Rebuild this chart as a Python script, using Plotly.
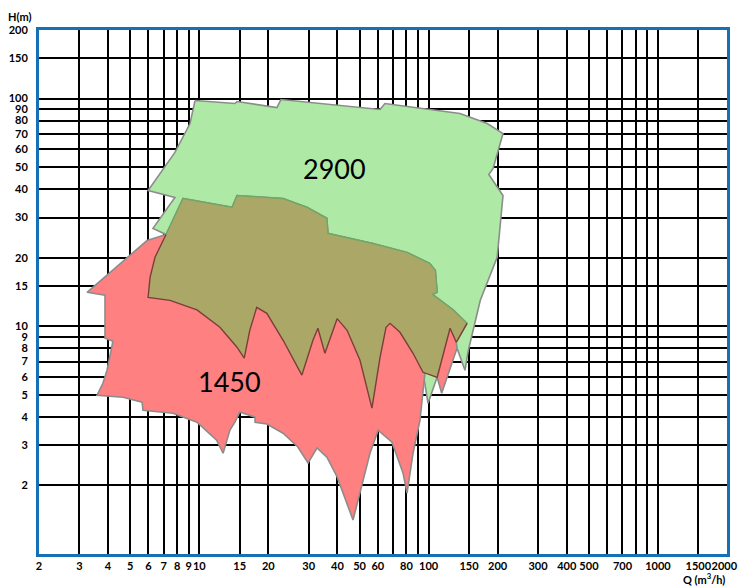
import math
import plotly.graph_objects as go

# ---- data (Q in m3/h, H in m) ----
# 2900 rpm envelope: outer boundary (clockwise from top-left)
g_outer_q = [9.58, 14.3, 14.6, 21.8, 22.7, 44.5, 61.4, 64.5, 137, 180, 211, 191, 183, 211,
             199, 168, 159, 149, 144, 134, 124, 109, 99.4, 94.5]
g_outer_h = [98.0, 95.1, 97.0, 91.3, 99.0, 92.2, 89.5, 95.1, 85.9, 77.7, 70.2, 49.3, 46.4, 37.5,
             20.1, 13.0, 10.3, 7.85, 6.41, 7.85, 8.68, 5.97, 4.59, 6.28]
g_left_q = [6.28, 7.83, 5.98, 7.83, 9.11]
g_left_h = [26.9, 36.8, 39.5, 58.0, 77.7]

# overlap region: upper edge (left -> right)
o_top_q = [7.16, 8.49, 13.9, 14.6, 23.2, 29.5, 36.0, 36.4, 57.2, 80.5, 101, 107, 109, 104, 128, 147]
o_top_h = [25.3, 36.4, 33.3, 37.5, 36.4, 33.3, 29.8, 25.6, 23.1, 21.1, 18.9, 17.6, 14.1, 13.8, 11.8, 10.3]
# overlap region: lower edge (right -> left)
o_bot_q = [132, 124, 109, 94.5, 85.5, 75.0, 67.9, 65.2, 61.4, 56.6, 50.2, 44.1, 39.9, 35.3, 32.9,
           31.3, 28.0, 23.2, 19.7, 17.8, 16.6, 15.7, 14.6, 12.3, 9.77, 7.45, 5.98, 6.10, 6.41]
o_bot_h = [8.51, 9.80, 5.97, 6.28, 7.61, 9.41, 10.3, 9.90, 7.31, 4.37, 7.09, 9.60, 10.8, 7.61, 9.80,
           8.68, 6.10, 8.68, 11.4, 12.1, 9.60, 7.24, 8.09, 9.90, 11.8, 13.0, 13.4, 16.4, 20.1]

# 1450 rpm envelope: outer boundary (from top-left, counter-clockwise down and around)
r_outer_q = [7.45, 6.22, 5.92, 3.24, 3.88, 3.88, 4.20, 3.96, 3.80, 3.58, 4.65, 5.63, 5.68, 7.68,
             9.77, 11.9, 12.7, 13.6, 14.3, 15.0, 17.5, 17.5, 19.7, 23.2, 26.9, 29.8, 32.6, 36.0,
             39.9, 46.8, 50.2, 55.5, 59.6, 60.2, 69.2, 77.3, 80.5, 85.5, 91.7, 94.5, 96.4, 109,
             114, 133, 132]
r_outer_h = [25.6, 24.1, 23.8, 14.1, 13.7, 8.86, 8.60, 6.41, 5.62, 4.98, 4.88, 4.64, 4.28, 4.15,
             3.79, 3.16, 2.77, 3.50, 3.79, 4.20, 3.99, 3.79, 3.72, 3.39, 2.95, 2.51, 2.92, 2.66,
             2.18, 1.41, 1.85, 2.77, 3.39, 3.50, 3.10, 2.27, 1.85, 2.77, 3.87, 5.08, 6.28, 5.97,
             5.08, 8.01, 8.51]

# speed labels (Q, H)
label_text = ["2900", "1450"]
label_q = [38.7, 13.5]
label_h = [49.3, 5.74]

x_grid = [2, 3, 4, 5, 6, 7, 8, 9, 10, 15, 20, 30, 40, 50, 60, 70, 80, 90, 100, 150, 200,
          300, 400, 500, 600, 700, 800, 900, 1000, 1500, 2000]
x_labels = ["2", "3", "4", "5", "6", "7", "8", "9", "10", "15", "20", "30", "40", "50", "60", "", "80",
            "", "100", "150", "200", "300", "400", "500", "", "700", "", "", "1000", "1500",
            "2000\u00a0\u00a0"]
y_grid = [2, 3, 4, 5, 6, 7, 8, 9, 10, 15, 20, 30, 40, 50, 60, 70, 80, 90, 100, 150, 200]
y_labels = [str(v) for v in y_grid]

GREEN = "#AEEAA6"
RED = "#FF8080"
OLIVE = "#ABA867"
EDGE = "#8C8C8C"

fig = go.Figure()

# green (2900)
gq = g_outer_q + o_bot_q[4:] + [o_top_q[0]] + g_left_q + [g_outer_q[0]]
gh = g_outer_h + o_bot_h[4:] + [o_top_h[0]] + g_left_h + [g_outer_h[0]]
fig.add_trace(go.Scatter(x=gq, y=gh, mode="lines", fill="toself", fillcolor=GREEN,
                         line=dict(color=EDGE, width=1.6), hoverinfo="skip"))

# red (1450)
rq = r_outer_q + o_top_q[::-1] + [r_outer_q[0]]
rh = r_outer_h + o_top_h[::-1] + [r_outer_h[0]]
fig.add_trace(go.Scatter(x=rq, y=rh, mode="lines", fill="toself", fillcolor=RED,
                         line=dict(color=EDGE, width=1.6), hoverinfo="skip"))

# overlap
oq = o_top_q + o_bot_q + [o_top_q[0]]
oh = o_top_h + o_bot_h + [o_top_h[0]]
fig.add_trace(go.Scatter(x=oq, y=oh, mode="lines", fill="toself", fillcolor=OLIVE,
                         line=dict(color=OLIVE, width=0), hoverinfo="skip"))
fig.add_trace(go.Scatter(x=o_top_q, y=o_top_h, mode="lines",
                         line=dict(color="#6FA866", width=1.4), hoverinfo="skip"))
fig.add_trace(go.Scatter(x=[o_top_q[-1]] + o_bot_q + [o_top_q[0]],
                         y=[o_top_h[-1]] + o_bot_h + [o_top_h[0]], mode="lines",
                         line=dict(color="#7A3F3A", width=1.4), hoverinfo="skip"))

BLUE = "#1670B6"
TICKFONT = dict(family="Lato", size=11, color="black", weight="bold")
fig.update_xaxes(type="log", range=[math.log10(2), math.log10(2000)], tickvals=x_grid, ticktext=x_labels,
                 showgrid=True, gridcolor="black", gridwidth=2, zeroline=False, tickangle=0,
                 showline=True, linecolor=BLUE, linewidth=3, mirror=True, ticks="",
                 ticklabeloverflow="allow", tickfont=TICKFONT)
fig.update_yaxes(type="log", range=[0, math.log10(200)], tickvals=y_grid, ticktext=y_labels,
                 showgrid=True, gridcolor="black", gridwidth=2, zeroline=False,
                 showline=True, linecolor=BLUE, linewidth=3, mirror=True, ticks="",
                 ticklabelstandoff=6, tickfont=TICKFONT)

# annotations on log axes take log10 positions
for t, q, h in zip(label_text, label_q, label_h):
    fig.add_annotation(x=math.log10(q), y=math.log10(h), xref="x", yref="y", text=t, showarrow=False,
                       font=dict(family="Lato", size=27, color="black"),
                       xanchor="center", yanchor="middle")
fig.add_annotation(x=-33 / 688, y=(554 - 16) / 524.5, xref="paper", yref="paper", text="H(m)",
                   showarrow=False, font=TICKFONT, xanchor="left", yanchor="middle")
fig.add_annotation(x=1.0, y=-0.047, xref="paper", yref="paper", text="Q (m<sup>3</sup>/h)",
                   showarrow=False, font=TICKFONT, xanchor="right", yanchor="middle")

fig.update_layout(width=739, height=587, margin=dict(l=39, r=12, t=30, b=33, autoexpand=False),
                  paper_bgcolor="white", plot_bgcolor="white", showlegend=False)

fig.write_html("out.html")
